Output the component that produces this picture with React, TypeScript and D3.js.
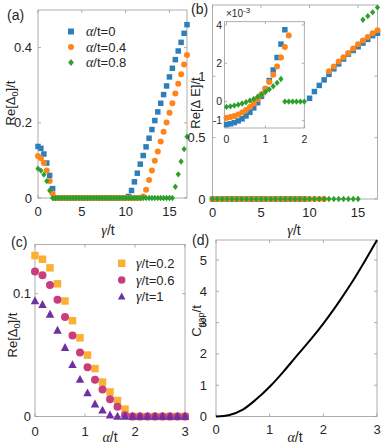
import * as d3 from 'd3';

const SANS = '"Liberation Sans", Arial, sans-serif';
const SERIF = '"Liberation Serif", "Times New Roman", serif';
const AXIS = '#9a9a9a';
const INK = '#262626';

const BLUE = '#2e7ebc';
const ORANGE = '#ff8519';
const GREEN = '#2ca02c';
const GOLD = '#fbb034';
const PINK = '#c83e7c';
const PURPLE = '#7030a0';

// (a) Re[Δ0]/t vs γ/t
const gammaA = [0, 0.33, 0.67, 1, 1.33, 1.67, 2, 2.33, 2.67, 3, 3.33, 3.67, 4, 4.33, 4.67, 5, 5.33, 5.67, 6, 6.33, 6.67, 7, 7.33, 7.67, 8, 8.33, 8.67, 9, 9.33, 9.67, 10, 10.33, 10.67, 11, 11.33, 11.67, 12, 12.33, 12.67, 13, 13.33, 13.67, 14, 14.33, 14.67, 15, 15.33, 15.67, 16, 16.33, 16.67, 17];
const delta0Alpha0 = [0.137, 0.132, 0.117, 0.093, 0.06, 0.025, 0,
  0, 0, 0, 0, 0, 0, 0, 0, 0, 0, 0, 0, 0, 0, 0, 0, 0, 0, 0, 0, 0, 0, 0, 0,
  0.004, 0.02, 0.043, 0.066, 0.09, 0.113, 0.136, 0.159, 0.182, 0.206, 0.229, 0.252, 0.275, 0.298, 0.322, 0.345, 0.368, 0.391, 0.414, 0.438, 0.461];
const delta0Alpha04 = [0.112, 0.106, 0.093, 0.073, 0.045, 0.012,
  0, 0, 0, 0, 0, 0, 0, 0, 0, 0, 0, 0, 0, 0, 0, 0, 0, 0, 0, 0, 0, 0, 0, 0, 0, 0, 0, 0, 0, 0,
  0.004, 0.022, 0.048, 0.073, 0.099, 0.124, 0.15, 0.176, 0.201, 0.227, 0.252, 0.278, 0.304, 0.329, 0.355, 0.38];
const delta0Alpha08 = [0.078, 0.073, 0.062, 0.045, 0.02,
  0, 0, 0, 0, 0, 0, 0, 0, 0, 0, 0, 0, 0, 0, 0, 0, 0, 0, 0, 0, 0, 0, 0, 0, 0, 0, 0, 0, 0, 0, 0, 0, 0, 0, 0, 0, 0, 0, 0, 0, 0, 0,
  0.03, 0.063, 0.097, 0.13, 0.163];

// (b) Re[ΔE]/t vs γ/t
const gammaB = [0, 0.5, 1, 1.5, 2, 2.5, 3, 3.5, 4, 4.5, 5, 5.5, 6, 6.5, 7, 7.5, 8, 8.5, 9, 9.5, 10, 10.5, 11, 11.5, 12, 12.5, 13, 13.5, 14, 14.5, 15, 15.5, 16, 16.5, 17];
const dEAlpha0 = [0, 0, 0, 0, 0, 0, 0, 0, 0, 0, 0, 0, 0, 0, 0, 0, 0, 0, 0, 0,
  0.82, 0.875, 0.925, 0.97, 1.015, 1.06, 1.1, 1.14, 1.18, 1.21, 1.24, 1.27, 1.3, 1.33, 1.35];
const dEAlpha04 = [0, 0, 0, 0, 0, 0, 0, 0, 0, 0, 0, 0, 0, 0, 0, 0, 0, 0, 0, 0, 0, 0, 0, 0,
  1.04, 1.08, 1.12, 1.155, 1.19, 1.225, 1.26, 1.29, 1.32, 1.35, 1.375];
const dEAlpha08 = [0, 0, 0, 0, 0, 0, 0, 0, 0, 0, 0, 0, 0, 0, 0, 0, 0, 0, 0, 0, 0, 0, 0, 0, 0, 0, 0, 0, 0, 0, 0,
  1.46, 1.49, 1.52, 1.56];

// (b) inset, values in units of 1e-3
const gammaInset = [0, 0.1, 0.2, 0.3, 0.4, 0.5, 0.6, 0.7, 0.8, 0.9, 1, 1.1, 1.2, 1.3, 1.4, 1.5, 1.6, 1.7, 1.8, 1.9, 2];
const insetAlpha0 = [-1.2, -1.16, -1.1, -1.01, -0.9, -0.75, -0.56, -0.33, -0.06, 0.27, 0.65, 1.1, 1.65, 2.3, 3.0, 3.75];
const insetAlpha04 = [-0.85, -0.81, -0.75, -0.67, -0.57, -0.44, -0.28, -0.1, 0.12, 0.38, 0.68, 1.02, 1.4, 1.83, 2.3, 2.85, 3.45];
const insetAlpha08 = [-0.28, -0.25, -0.21, -0.16, -0.1, -0.03, 0.05, 0.14, 0.25, 0.37, 0.5, 0.64, 0.8, 0.98, 1.18, 0, 0, 0, 0, 0, 0];

// (c) Re[Δ0]/t vs α/t
const alphaC = [0, 0.15, 0.3, 0.45, 0.6, 0.75, 0.9, 1.05, 1.2, 1.35, 1.5, 1.65, 1.8, 1.95, 2.1, 2.25, 2.4, 2.55, 2.7, 2.85, 3];
const delta0Gamma02 = [0.131, 0.128, 0.121, 0.108, 0.094, 0.078, 0.064, 0.05, 0.039, 0.028, 0.02, 0.013, 0.006, 0, 0, 0, 0, 0, 0, 0, 0];
const delta0Gamma06 = [0.118, 0.115, 0.107, 0.095, 0.081, 0.066, 0.052, 0.04, 0.03, 0.022, 0.014, 0.008, 0.001, 0, 0, 0, 0, 0, 0, 0, 0];
const delta0Gamma1 = [0.094, 0.091, 0.083, 0.07, 0.056, 0.042, 0.03, 0.019, 0.01, 0.005, 0.001, 0, 0, 0, 0, 0, 0, 0, 0, 0, 0];

// (d) C_gap/t vs α/t
const alphaD = [0, 0.25, 0.5, 0.75, 1, 1.25, 1.5, 1.75, 2, 2.25, 2.5, 2.75, 3];
const cGap = [0, 0.05, 0.22, 0.55, 0.95, 1.42, 1.93, 2.43, 2.97, 3.56, 4.2, 4.9, 5.64];

const legendA = ['0', '0.4', '0.8'];
const legendC = ['0.2', '0.6', '1'];

function markerPath(shape: string, s: number) {
  const h = s / 2;
  if (shape === 'square') return `M${-h},${-h}h${s}v${s}h${-s}Z`;
  if (shape === 'diamond') return `M0,${-h * 1.15}L${h * 0.95},0L0,${h * 1.15}L${-h * 0.95},0Z`;
  if (shape === 'triangle') return `M0,${-h * 1.1}L${h},${h * 0.75}L${-h},${h * 0.75}Z`;
  return d3.symbol(d3.symbolCircle, (Math.PI * s * s) / 4)() as string;
}

function Series({ xs, ys, x, y, shape, size, color }: any) {
  const d = markerPath(shape, size);
  return (
    <g fill={color}>
      {ys.map((v: number, i: number) => (
        <path key={i} d={d} transform={`translate(${x(xs[i])},${y(v)})`} />
      ))}
    </g>
  );
}

function Frame({ x, y, xTicks, yTicks, fs = 13, xGap = 18, yGap = 5, tick = 3, fill = 'none', yFmt = (t: number) => String(t) }: any) {
  const [x0, x1] = x.range();
  const [y0, y1] = y.range();
  return (
    <g fontFamily={SANS} fontSize={fs} fill={INK}>
      <rect x={x0} y={y1} width={x1 - x0} height={y0 - y1} fill={fill} stroke={AXIS} strokeWidth={0.8} />
      {xTicks.map((t: number) => (
        <g key={'x' + t}>
          <line x1={x(t)} x2={x(t)} y1={y0} y2={y0 - tick} stroke={AXIS} strokeWidth={0.8} />
          <line x1={x(t)} x2={x(t)} y1={y1} y2={y1 + tick} stroke={AXIS} strokeWidth={0.8} />
          <text x={x(t)} y={y0 + xGap} textAnchor="middle">{t}</text>
        </g>
      ))}
      {yTicks.map((t: number) => (
        <g key={'y' + t}>
          <line x1={x0} x2={x0 + tick} y1={y(t)} y2={y(t)} stroke={AXIS} strokeWidth={0.8} />
          <line x1={x1} x2={x1 - tick} y1={y(t)} y2={y(t)} stroke={AXIS} strokeWidth={0.8} />
          <text x={x0 - yGap} y={y(t)} dy="0.35em" textAnchor="end">{yFmt(t)}</text>
        </g>
      ))}
    </g>
  );
}

export default function App() {
  const xA = d3.scaleLinear().domain([0, 17]).range([38, 187]);
  const yA = d3.scaleLinear().domain([0, 0.5]).range([198, 10]);
  const xB = d3.scaleLinear().domain([0, 17]).range([212.5, 377.5]);
  const yB = d3.scaleLinear().domain([0, 1.58]).range([199, 5]);
  const xI = d3.scaleLinear().domain([-0.05, 2]).range([224.6, 304.3]);
  const yI = d3.scaleLinear().domain([-1.38, 4.17]).range([128, 21.7]);
  const xC = d3.scaleLinear().domain([0, 3]).range([35, 185]);
  const yC = d3.scaleLinear().domain([0, 0.14]).range([416.5, 244.5]);
  const xD = d3.scaleLinear().domain([0, 3]).range([216, 377]);
  const yD = d3.scaleLinear().domain([0, 5.64]).range([416.5, 240]);

  const line = d3.line<number>().x((_, i) => xD(alphaD[i])).y((v) => yD(v)).curve(d3.curveMonotoneX);

  const legA = [
    { shape: 'square', color: BLUE },
    { shape: 'circle', color: ORANGE },
    { shape: 'diamond', color: GREEN },
  ];
  const legC = [
    { shape: 'square', color: GOLD },
    { shape: 'circle', color: PINK },
    { shape: 'triangle', color: PURPLE },
  ];

  return (
    <svg width={381} height={445} style={{ position: 'absolute', left: 0, top: 0, background: '#fff' }} fontFamily={SANS}>
      {/* (a) */}
      <Frame x={xA} y={yA} xTicks={[0, 5, 10, 15]} yTicks={[0, 0.2, 0.4]} yGap={6} />
      <Series xs={gammaA} ys={delta0Alpha0} x={xA} y={yA} shape="square" size={5.5} color={BLUE} />
      <Series xs={gammaA} ys={delta0Alpha04} x={xA} y={yA} shape="circle" size={6} color={ORANGE} />
      <Series xs={gammaA} ys={delta0Alpha08} x={xA} y={yA} shape="diamond" size={5.5} color={GREEN} />
      {legendA.map((lab, i) => (
        <g key={lab}>
          <path d={markerPath(legA[i].shape, 6)} transform={`translate(71,${31.5 + i * 15.5})`} fill={legA[i].color} />
          <text x={86} y={31.5 + i * 15.5} dy="0.35em" fontSize={13} fill={INK}>
            <tspan fontFamily={SERIF} fontStyle="italic" fontSize={14}>α</tspan>/t={lab}
          </text>
        </g>
      ))}
      <text x={7} y={20} fontSize={14} fill={INK}>(a)</text>
      <text transform="translate(15,103) rotate(-90)" textAnchor="middle" fontSize={13} fill={INK}>
        Re[Δ<tspan fontSize={9} dy={3}>0</tspan><tspan dy={-3}>]/t</tspan>
      </text>
      <text x={108} y={235} textAnchor="middle" fontSize={14} fill={INK}>
        <tspan fontFamily={SERIF} fontStyle="italic">γ</tspan>/t
      </text>

      {/* (b) */}
      <Frame x={xB} y={yB} xTicks={[0, 5, 10, 15]} yTicks={[0, 0.5, 1]} yGap={7} />
      <Series xs={gammaB} ys={dEAlpha0} x={xB} y={yB} shape="square" size={5.5} color={BLUE} />
      <Series xs={gammaB} ys={dEAlpha04} x={xB} y={yB} shape="circle" size={6} color={ORANGE} />
      <Series xs={gammaB} ys={dEAlpha08} x={xB} y={yB} shape="diamond" size={5.5} color={GREEN} />
      <Frame x={xI} y={yI} xTicks={[0, 1, 2]} yTicks={[-1, 0, 2, 4]} fs={10.5} xGap={15} yGap={2.5} tick={2.5} fill="#fff" />
      <Series xs={gammaInset} ys={insetAlpha0} x={xI} y={yI} shape="square" size={5.5} color={BLUE} />
      <Series xs={gammaInset} ys={insetAlpha04} x={xI} y={yI} shape="circle" size={6} color={ORANGE} />
      <Series xs={gammaInset} ys={insetAlpha08} x={xI} y={yI} shape="diamond" size={5.5} color={GREEN} />
      <text x={226} y={17} fontSize={10} fill={INK}>
        ×10<tspan fontSize={8} dy={-4}>-3</tspan>
      </text>
      <text x={191} y={14} fontSize={14} fill={INK}>(b)</text>
      <text transform="translate(200,103) rotate(-90)" textAnchor="middle" fontSize={13} fill={INK}>
        Re[Δ E]/t
      </text>
      <text x={294} y={235} textAnchor="middle" fontSize={14} fill={INK}>
        <tspan fontFamily={SERIF} fontStyle="italic">γ</tspan>/t
      </text>

      {/* (c) */}
      <Frame x={xC} y={yC} xTicks={[0, 1, 2, 3]} yTicks={[0, 0.1]} yGap={4} xGap={19} />
      <Series xs={alphaC} ys={delta0Gamma02} x={xC} y={yC} shape="square" size={7.5} color={GOLD} />
      <Series xs={alphaC} ys={delta0Gamma06} x={xC} y={yC} shape="circle" size={8} color={PINK} />
      <Series xs={alphaC} ys={delta0Gamma1} x={xC} y={yC} shape="triangle" size={8.5} color={PURPLE} />
      {legendC.map((lab, i) => (
        <g key={lab}>
          <path d={markerPath(legC[i].shape, 7.5)} transform={`translate(121.7,${263.3 + i * 16.7})`} fill={legC[i].color} />
          <text x={136} y={263.3 + i * 16.7} dy="0.35em" fontSize={13} fill={INK}>
            <tspan fontFamily={SERIF} fontStyle="italic" fontSize={14}>γ</tspan>/t={lab}
          </text>
        </g>
      ))}
      <text x={11} y={246.5} fontSize={14} fill={INK}>(c)</text>
      <text transform="translate(17,335) rotate(-90)" textAnchor="middle" fontSize={13} fill={INK}>
        Re[Δ<tspan fontSize={9} dy={3}>0</tspan><tspan dy={-3}>]/t</tspan>
      </text>
      <text x={110} y={442} textAnchor="middle" fontSize={14} fill={INK}>
        <tspan fontFamily={SERIF} fontStyle="italic">α</tspan>/t
      </text>

      {/* (d) */}
      <Frame x={xD} y={yD} xTicks={[0, 1, 2, 3]} yTicks={[0, 1, 2, 3, 4, 5]} yGap={9} xGap={17} />
      <path d={line(cGap) as string} fill="none" stroke="#000" strokeWidth={2} />
      <text x={192} y={245} fontSize={14} fill={INK}>(d)</text>
      <text transform="translate(201,321) rotate(-90)" textAnchor="middle" fontSize={13} fill={INK}>
        C<tspan fontSize={9} dy={3}>gap</tspan><tspan dy={-3}>/t</tspan>
      </text>
      <text x={295} y={442} textAnchor="middle" fontSize={14} fill={INK}>
        <tspan fontFamily={SERIF} fontStyle="italic">α</tspan>/t
      </text>
    </svg>
  );
}
